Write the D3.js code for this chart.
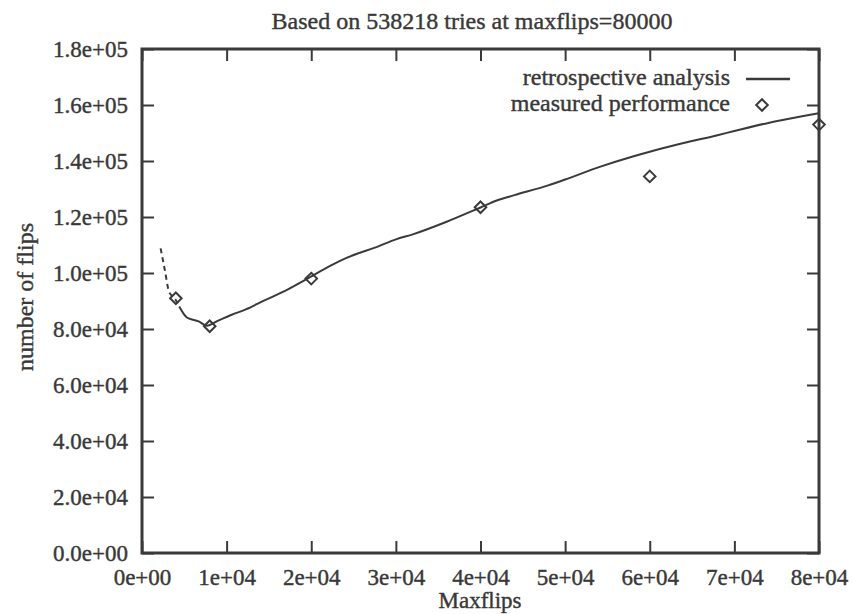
<!DOCTYPE html>
<html>
<head>
<meta charset="utf-8">
<script src="https://cdn.jsdelivr.net/npm/d3@7"></script>
<style>
  body { margin: 0; background: #fff; }
  text { font-family: "Liberation Serif", "DejaVu Serif", serif; fill: #383838; stroke: #383838; stroke-width: 0.4; }
</style>
</head>
<body>
<div id="chart"></div>
<script>
    const width = 852, height = 614;
    const margin = {top: 49, right: 33, bottom: 61, left: 142};

    // 数据：回顾分析（虚线部分 + 实线部分）和实测点
    const dashedX = [2200, 2700, 3200, 3900, 4400];
    const dashedY = [108800, 101000, 93300, 90800, 88000];
    const solidX = [4400, 5300, 6700, 7700, 9000, 10600, 12200, 14600, 16900, 19500, 22400, 24100, 28000, 30000, 32000, 36000, 40000, 42000, 44000, 48000, 50000, 54000, 58000, 60000, 64000, 68000, 70000, 74000, 78000, 80000];
    const solidY = [88000, 84100, 82700, 81200, 83000, 85100, 86900, 90400, 93600, 97900, 102800, 105300, 109600, 112000, 113800, 118300, 123400, 126000, 127800, 131300, 133400, 137800, 141600, 143300, 146400, 149200, 150700, 153600, 156000, 157100];
    const measuredX = [4000, 8000, 20000, 40000, 60000, 80000];
    const measuredY = [91000, 81000, 98000, 123500, 134500, 153000];
    const xTicks = [0, 10000, 20000, 30000, 40000, 50000, 60000, 70000, 80000];
    const xTickLabels = ["0e+00", "1e+04", "2e+04", "3e+04", "4e+04", "5e+04", "6e+04", "7e+04", "8e+04"];
    const yTicks = [0, 20000, 40000, 60000, 80000, 100000, 120000, 140000, 160000, 180000];
    const yTickLabels = ["0.0e+00", "2.0e+04", "4.0e+04", "6.0e+04", "8.0e+04", "1.0e+05", "1.2e+05", "1.4e+05", "1.6e+05", "1.8e+05"];

    const ink = "#3a3a3a";
    const iw = width - margin.left - margin.right;
    const ih = height - margin.top - margin.bottom;

    const svg = d3.select("#chart")
        .append("svg")
        .attr("width", width)
        .attr("height", height);

    const g = svg.append("g").attr("transform", `translate(${margin.left},${margin.top})`);

    const x = d3.scaleLinear().domain([0, 80000]).range([0, iw]);
    const y = d3.scaleLinear().domain([0, 180000]).range([ih, 0]);

    // 坐标轴（刻度朝内）
    const fmtX = d => xTickLabels[xTicks.indexOf(d)];
    const fmtY = d => yTickLabels[yTicks.indexOf(d)];

    const axes = [
        g.append("g").attr("transform", `translate(0,${ih})`)
            .call(d3.axisBottom(x).tickValues(xTicks).tickFormat(fmtX).tickSizeInner(-12).tickSizeOuter(0).tickPadding(16)),
        g.append("g")
            .call(d3.axisTop(x).tickValues(xTicks).tickFormat("").tickSizeInner(-12).tickSizeOuter(0)),
        g.append("g")
            .call(d3.axisLeft(y).tickValues(yTicks).tickFormat(fmtY).tickSizeInner(-12).tickSizeOuter(0).tickPadding(14)),
        g.append("g").attr("transform", `translate(${iw},0)`)
            .call(d3.axisRight(y).tickValues(yTicks).tickFormat("").tickSizeInner(-12).tickSizeOuter(0))
    ];
    axes.forEach(a => {
        a.select(".domain").remove();
        a.selectAll("line").attr("stroke", ink).attr("stroke-width", 2);
        a.selectAll("text").attr("font-size", 23).attr("fill", ink)
            .style("font-family", '"Liberation Serif", serif');
    });

    // 边框
    g.append("rect")
        .attr("width", iw).attr("height", ih)
        .attr("fill", "none").attr("stroke", ink).attr("stroke-width", 3);

    // 曲线
    const line = d3.line().x(d => x(d[0])).y(d => y(d[1])).curve(d3.curveMonotoneX);
    g.append("path")
        .datum(dashedX.map((v, i) => [v, dashedY[i]]))
        .attr("d", line)
        .attr("fill", "none").attr("stroke", ink).attr("stroke-width", 2)
        .attr("stroke-dasharray", "5,4");
    g.append("path")
        .datum(solidX.map((v, i) => [v, solidY[i]]))
        .attr("d", line)
        .attr("fill", "none").attr("stroke", ink).attr("stroke-width", 2);

    // 实测点（菱形）
    const diamond = d3.symbol().type(d3.symbolDiamond2).size(85);
    g.selectAll(".pt")
        .data(measuredX.map((v, i) => [v, measuredY[i]]))
        .enter().append("path")
        .attr("class", "pt")
        .attr("d", diamond)
        .attr("transform", d => `translate(${x(d[0])},${y(d[1])})`)
        .attr("fill", "none").attr("stroke", ink).attr("stroke-width", 2);

    // 图例
    const leg = svg.append("g");
    leg.append("text").attr("x", 730).attr("y", 85).attr("text-anchor", "end")
        .attr("font-size", 24).text("retrospective analysis");
    leg.append("line").attr("x1", 746).attr("x2", 790).attr("y1", 79).attr("y2", 79)
        .attr("stroke", ink).attr("stroke-width", 2.5);
    leg.append("text").attr("x", 730).attr("y", 111).attr("text-anchor", "end")
        .attr("font-size", 24).text("measured performance");
    leg.append("path").attr("d", diamond)
        .attr("transform", "translate(762,105)")
        .attr("fill", "none").attr("stroke", ink).attr("stroke-width", 2);

    // 标题和轴标签
    svg.append("text").attr("x", 472).attr("y", 29).attr("text-anchor", "middle")
        .attr("font-size", 24).text("Based on 538218 tries at maxflips=80000");
    svg.append("text").attr("x", 480).attr("y", 608).attr("text-anchor", "middle")
        .attr("font-size", 23).text("Maxflips");
    svg.append("text").attr("transform", "translate(33,297) rotate(-90)")
        .attr("text-anchor", "middle").attr("font-size", 24).text("number of flips");
</script>
</body>
</html>
